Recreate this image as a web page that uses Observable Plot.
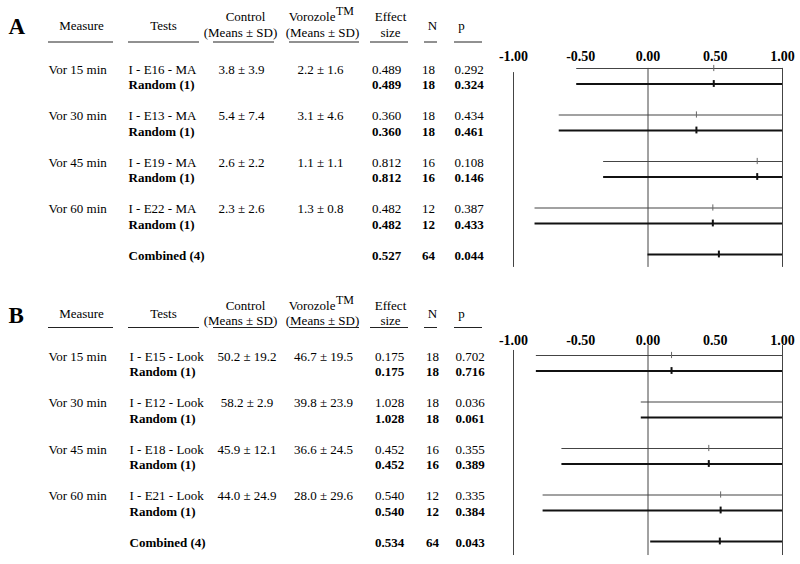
<!DOCTYPE html>
<html>
<head>
<meta charset="utf-8">
<script src="https://cdn.jsdelivr.net/npm/d3@7"></script>
<script src="https://cdn.jsdelivr.net/npm/@observablehq/plot@0.6"></script>
<style>
  body { margin: 0; background: #fff; }
  #chart { width: 800px; height: 564px; overflow: hidden; background: #fff; }
  #chart svg { display: block; }
</style>
</head>
<body>
<div id="chart"></div>
<script>
// ---------- DATA ----------
const measures = ["Vor 15 min", "Vor 30 min", "Vor 45 min", "Vor 60 min"];
const tickValues = [-1, -0.5, 0, 0.5, 1];
const tickLabels = ["-1.00", "-0.50", "0.00", "0.50", "1.00"];

// Panel A
const testsA = ["I - E16 - MA", "I - E13 - MA", "I - E19 - MA", "I - E22 - MA"];
const controlA = ["3.8 ± 3.9", "5.4 ± 7.4", "2.6 ± 2.2", "2.3 ± 2.6"];
const vorozoleA = ["2.2 ± 1.6", "3.1 ± 4.6", "1.1 ± 1.1", "1.3 ± 0.8"];
const effectA = [0.489, 0.360, 0.812, 0.482];
const nA = [18, 18, 16, 12];
const pTestA = [0.292, 0.434, 0.108, 0.387];
const pRandomA = [0.324, 0.461, 0.146, 0.433];
const combinedA = [0.527, 64, 0.044];           // effect, N, p
const ciLowA = [-0.53, -0.66, -0.33, -0.84];
const ciHighA = [1.51, 1.38, 1.95, 1.80];
const ciLowRandomA = [-0.53, -0.66, -0.33, -0.84];
const ciHighRandomA = [1.51, 1.38, 1.95, 1.80];
const combinedCiA = [0.00, 1.05];

// Panel B
const testsB = ["I - E15 - Look", "I - E12 - Look", "I - E18 - Look", "I - E21 - Look"];
const controlB = ["50.2 ± 19.2", "58.2 ± 2.9", "45.9 ± 12.1", "44.0 ± 24.9"];
const vorozoleB = ["46.7 ± 19.5", "39.8 ± 23.9", "36.6 ± 24.5", "28.0 ± 29.6"];
const effectB = [0.175, 1.028, 0.452, 0.540];
const nB = [18, 18, 16, 12];
const pTestB = [0.702, 0.036, 0.355, 0.335];
const pRandomB = [0.716, 0.061, 0.389, 0.384];
const combinedB = [0.534, 64, 0.043];
const ciLowB = [-0.83, -0.05, -0.64, -0.78];
const ciHighB = [1.18, 2.10, 1.54, 1.86];
const ciLowRandomB = [-0.83, -0.05, -0.64, -0.78];
const ciHighRandomB = [1.18, 2.10, 1.54, 1.86];
const combinedCiB = [0.02, 1.05];

// ---------- BUILD TABLES ----------
const fmt3 = d3.format(".3f");

function tableRows(tests, control, vorozole, effect, n, pTest, pRandom, combined) {
  const rows = [];
  tests.forEach((t, i) => {
    rows.push({line: i * 3, bold: false, measure: measures[i], test: t, control: control[i],
      vorozole: vorozole[i], effect: fmt3(effect[i]), n: String(n[i]), p: fmt3(pTest[i])});
    rows.push({line: i * 3 + 1, bold: true, measure: "", test: "Random (1)", control: "",
      vorozole: "", effect: fmt3(effect[i]), n: String(n[i]), p: fmt3(pRandom[i])});
  });
  rows.push({line: 12, bold: true, measure: "", test: "Combined (4)", control: "", vorozole: "",
    effect: fmt3(combined[0]), n: String(combined[1]), p: fmt3(combined[2])});
  return rows;
}

function forestRows(effect, lo, hi, loR, hiR, combined, combinedCi) {
  const rows = [];
  effect.forEach((e, i) => {
    rows.push({line: i * 3, est: e, lo: lo[i], hi: hi[i], thick: false});
    rows.push({line: i * 3 + 1, est: e, lo: loR[i], hi: hiR[i], thick: true});
  });
  rows.push({line: 12, est: combined[0], lo: combinedCi[0], hi: combinedCi[1], thick: true});
  return rows;
}

// ---------- LAYOUT ----------
const panels = [
  {
    letter: "A", height: 287,
    table: tableRows(testsA, controlA, vorozoleA, effectA, nA, pTestA, pRandomA, combinedA),
    forest: forestRows(effectA, ciLowA, ciHighA, ciLowRandomA, ciHighRandomA, combinedA, combinedCiA),
    hy: {letter: 26, top: 16, mid: 25, bottom: 32, ul: 41.5, tm: 11},
    axisY: 56, vTop: -0.07, vTopLeft: 0.2, vBottom: 12.77,
    cols: [
      {field: "measure", x: 48, anchor: "start"},
      {field: "test", x: 128, anchor: "start"},
      {field: "control", x: 241, anchor: "middle"},
      {field: "vorozole", x: 320, anchor: "middle"},
      {field: "effect", x: 386, anchor: "middle"},
      {field: "n", x: 428, anchor: "middle"},
      {field: "p", x: 468.5, anchor: "middle"}
    ]
  },
  {
    letter: "B", height: 277,
    table: tableRows(testsB, controlB, vorozoleB, effectB, nB, pTestB, pRandomB, combinedB),
    forest: forestRows(effectB, ciLowB, ciHighB, ciLowRandomB, ciHighRandomB, combinedB, combinedCiB),
    hy: {letter: 28, top: 18, mid: 26, bottom: 33, ul: 40, tm: 13},
    axisY: 53, vTop: -0.71, vTopLeft: -0.39, vBottom: 12.84,
    cols: [
      {field: "measure", x: 48, anchor: "start"},
      {field: "test", x: 129, anchor: "start"},
      {field: "control", x: 246.5, anchor: "middle"},
      {field: "vorozole", x: 323, anchor: "middle"},
      {field: "effect", x: 389, anchor: "middle"},
      {field: "n", x: 432, anchor: "middle"},
      {field: "p", x: 469.5, anchor: "middle"}
    ]
  }
];

const headerCells = [
  {text: "Measure", x: 81, row: "mid", anchor: "middle"},
  {text: "Tests", x: 163, row: "mid", anchor: "middle"},
  {text: "Control", x: 245, row: "top", anchor: "middle"},
  {text: "(Means ± SD)", x: 240, row: "bottom", anchor: "middle"},
  {text: "Vorozole", x: 335, row: "top", anchor: "end"},
  {text: "(Means ± SD)", x: 322, row: "bottom", anchor: "middle"},
  {text: "Effect", x: 390, row: "top", anchor: "middle"},
  {text: "size", x: 390, row: "bottom", anchor: "middle"},
  {text: "N", x: 432, row: "mid", anchor: "middle"},
  {text: "p", x: 461, row: "mid", anchor: "middle"}
];
const underlines = [[48, 113], [128, 199], [213, 274], [289, 359], [370, 408], [424, 437], [454, 482]];

const ROW0 = 69, LINE = 15.5, W = 800;

function panelPlot(cfg) {
  const marks = [];
  // panel letter
  marks.push(Plot.text([cfg.letter], {frameAnchor: "top-left", dx: 8, dy: cfg.hy.letter, text: d => d,
    textAnchor: "start", lineAnchor: "middle", fontSize: 23, fontWeight: "bold"}));
  // headers
  headerCells.forEach(h => {
    marks.push(Plot.text([h.text], {frameAnchor: "top-left", dx: h.x, dy: cfg.hy[h.row], text: d => d,
      textAnchor: h.anchor, lineAnchor: "middle", fontSize: 13}));
  });
  marks.push(Plot.text(["TM"], {frameAnchor: "top-left", dx: 335.5, dy: cfg.hy.tm, text: d => d,
    textAnchor: "start", lineAnchor: "middle", fontSize: 12}));
  // header underlines
  underlines.forEach(([x1, x2]) => {
    marks.push(Plot.ruleY([0], {insetLeft: x1, insetRight: W - x2, dy: cfg.hy.ul - ROW0,
      stroke: "#222", strokeWidth: 1}));
  });
  // table body
  cfg.cols.forEach(c => {
    const plain = cfg.table.filter(r => !r.bold && r[c.field] !== "");
    const bold = cfg.table.filter(r => r.bold && r[c.field] !== "");
    marks.push(Plot.text(plain, {y: "line", frameAnchor: "left", dx: c.x, text: c.field,
      textAnchor: c.anchor, lineAnchor: "middle", fontSize: 13}));
    marks.push(Plot.text(bold, {y: "line", frameAnchor: "left", dx: c.x, text: c.field,
      textAnchor: c.anchor, lineAnchor: "middle", fontSize: 13, fontWeight: "bold"}));
  });
  // forest axis labels
  marks.push(Plot.text(tickValues, {x: d => d, text: (d, i) => tickLabels[i], frameAnchor: "top",
    dy: cfg.axisY, lineAnchor: "middle", fontSize: 14, fontWeight: "bold"}));
  // reference verticals
  marks.push(Plot.ruleX([-1], {y1: cfg.vTopLeft, y2: cfg.vBottom, stroke: "#444", strokeWidth: 1}));
  marks.push(Plot.ruleX([0, 1], {y1: cfg.vTop, y2: cfg.vBottom, stroke: "#444", strokeWidth: 1}));
  // confidence intervals
  marks.push(Plot.ruleY(cfg.forest.filter(d => !d.thick), {y: "line", x1: "lo", x2: "hi",
    stroke: "#444", strokeWidth: 1.1, dy: -1}));
  marks.push(Plot.ruleY(cfg.forest.filter(d => d.thick), {y: "line", x1: "lo", x2: "hi",
    stroke: "#111", strokeWidth: 2, dy: -1}));
  // effect size ticks (only those within the axis range)
  marks.push(Plot.ruleX(cfg.forest.filter(d => !d.thick && d.est <= 1), {x: "est",
    y1: d => d.line - 0.2, y2: d => d.line + 0.2, stroke: "#666", strokeWidth: 1, dy: -1}));
  marks.push(Plot.ruleX(cfg.forest.filter(d => d.thick && d.est <= 1), {x: "est",
    y1: d => d.line - 0.22, y2: d => d.line + 0.22, stroke: "#111", strokeWidth: 2, dy: -1}));

  return Plot.plot({
    width: W,
    height: cfg.height,
    marginTop: 0, marginRight: 0, marginBottom: 0, marginLeft: 0,
    x: {domain: [-1, 1], range: [513, 782], clamp: true, axis: null},
    y: {domain: [0, 12], range: [ROW0, ROW0 + 12 * LINE], axis: null},
    style: {fontFamily: "'Liberation Serif', 'Times New Roman', serif", fontSize: "13px",
      background: "#fff", color: "#000"},
    marks
  });
}

const root = document.getElementById("chart");
panels.forEach(p => root.appendChild(panelPlot(p)));
</script>
</body>
</html>
